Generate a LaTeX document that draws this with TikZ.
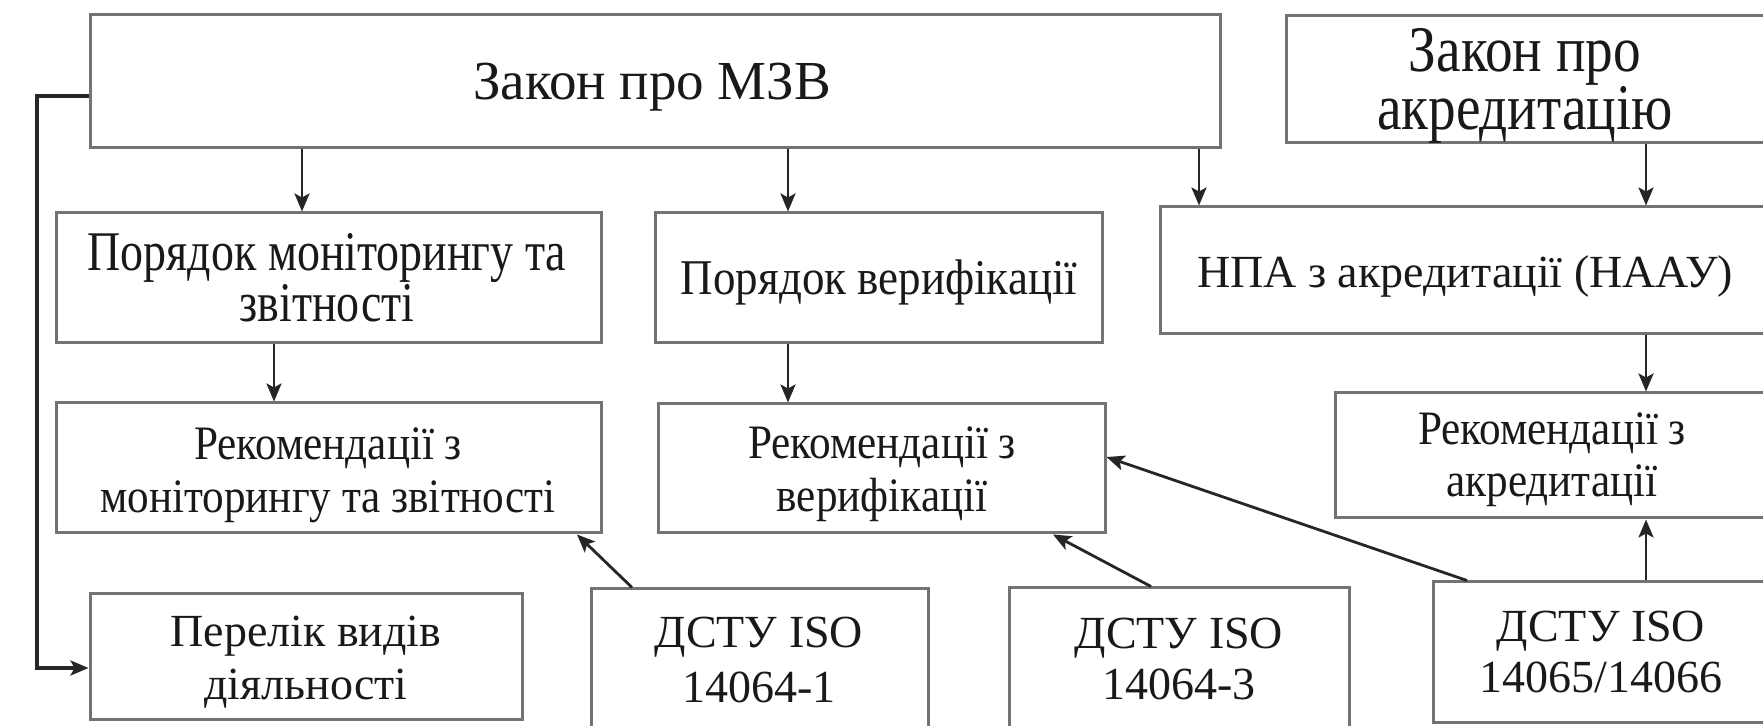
\documentclass[tikz,border=0pt]{standalone}
\usepackage{fontspec}
\setmainfont{Liberation Serif}
\newfontfamily\fN{Liberation Serif}
\newfontfamily\fC[FakeStretch=0.85]{Liberation Serif}
\newfontfamily\fD[FakeStretch=0.82]{Liberation Serif}
\newfontfamily\fE[FakeStretch=0.9]{Liberation Serif}
\usetikzlibrary{arrows.meta,fit}
\tikzset{
  box/.style={draw=black!55, line width=1.5pt, inner sep=0pt, fill=none},
  txt/.style={inner sep=0pt, align=center, anchor=base, text=black!90},
  arr/.style={draw=black!85, line width=1.4pt, -{Stealth[length=9pt,width=7.5pt,inset=2pt]}},
}
\begin{document}
\begin{tikzpicture}[x=0.5pt,y=-0.5pt]
\useasboundingbox (0,0) rectangle (1763,726);
\clip (0,0) rectangle (1763,726);
\fill[white] (0,0) rectangle (1763,726);
% boxes
\node[box, fit={(90,15) (1220,148)}] (zvb) {};
\node[box, fit={(1286,16) (1775,143)}] (akr) {};
\node[box, fit={(56,213) (601,343)}] (pm) {};
\node[box, fit={(655,213) (1102,343)}] (pv) {};
\node[box, fit={(1160,207) (1775,334)}] (npa) {};
\node[box, fit={(56,403) (601,533)}] (rm) {};
\node[box, fit={(658,404) (1105,533)}] (rv) {};
\node[box, fit={(1335,393) (1775,518)}] (ra) {};
\node[box, fit={(90,594) (522,720)}] (per) {};
\node[box, fit={(591,589) (928,745)}] (d1) {};
\node[box, fit={(1009,588) (1349,745)}] (d3) {};
\node[box, fit={(1433,582) (1775,723)}] (d5) {};
% texts (anchor base = last line)
\node[txt, font=\fN\fontsize{27.5pt}{27.5pt}\selectfont] (zvb-t) at (652,100) {Закон про МЗВ};
\node[txt, font=\fC\fontsize{32.5pt}{27.5pt}\selectfont] (akr-t) at (1525,130) {Закон про\\акредитацію};
\node[txt, font=\fD\fontsize{28pt}{23.5pt}\selectfont] (pm-t) at (327,322) {Порядок моніторингу та\\звітності};
\node[txt, font=\fE\fontsize{25pt}{25pt}\selectfont] (pv-t) at (879,295) {Порядок верифікації};
\node[txt, font=\fN\fontsize{23pt}{23pt}\selectfont] (npa-t) at (1465,288) {НПА з акредитації (НААУ)};
\node[txt, font=\fE\fontsize{24pt}{26.5pt}\selectfont] (rm-t) at (328,513) {Рекомендації з\\моніторингу та звітності};
\node[txt, font=\fE\fontsize{24pt}{26.5pt}\selectfont] (rv-t) at (882,512) {Рекомендації з\\верифікації};
\node[txt, font=\fE\fontsize{24pt}{26pt}\selectfont] (ra-t) at (1552,497) {Рекомендації з\\акредитації};
\node[txt, font=\fN\fontsize{23pt}{26.5pt}\selectfont] (per-t) at (306,700) {Перелік видів\\діяльності};
\node[txt, font=\fN\fontsize{23pt}{27.5pt}\selectfont] (d1-t) at (759,703) {ДСТУ ISO\\14064-1};
\node[txt, font=\fN\fontsize{23pt}{25.5pt}\selectfont] (d3-t) at (1179,700) {ДСТУ ISO\\14064-3};
\node[txt, font=\fN\fontsize{23pt}{25.5pt}\selectfont] (d5-t) at (1601,693) {ДСТУ ISO\\14065/14066};
% helper coordinates
\coordinate (xa) at (302,0);
\coordinate (xb) at (788,0);
\coordinate (xc) at (1199,0);
\coordinate (xd) at (1646,0);
\coordinate (xe) at (274,0);
\coordinate (s1) at (632,0);
\coordinate (e1) at (577,0);
\coordinate (s3) at (1151,0);
\coordinate (e3) at (1053,0);
\coordinate (s5) at (1467,0);
\coordinate (e5) at (0,457);
\coordinate (l1) at (37,96);
\coordinate (l3) at (0,668);
% connectors
\draw[arr] (zvb.south -| xa) -- (pm.north -| xa);
\draw[arr] (zvb.south -| xb) -- (pv.north -| xb);
\draw[arr] (zvb.south -| xc) -- (npa.north -| xc);
\draw[arr] (akr.south -| xd) -- (npa.north -| xd);
\draw[arr] (pm.south -| xe) -- (rm.north -| xe);
\draw[arr] (pv.south -| xb) -- (rv.north -| xb);
\draw[arr] (npa.south -| xd) -- (ra.north -| xd);
\draw[arr] (d1.north -| s1) -- (rm.south -| e1);
\draw[arr] (d3.north -| s3) -- (rv.south -| e3);
\draw[arr] (d5.north -| s5) -- (rv.east |- e5);
\draw[arr] (d5.north -| xd) -- (ra.south -| xd);
\draw[arr, line width=1.6pt] (zvb.west |- l1) -- (l1) |- (per.west |- l3);
\end{tikzpicture}
\end{document}
